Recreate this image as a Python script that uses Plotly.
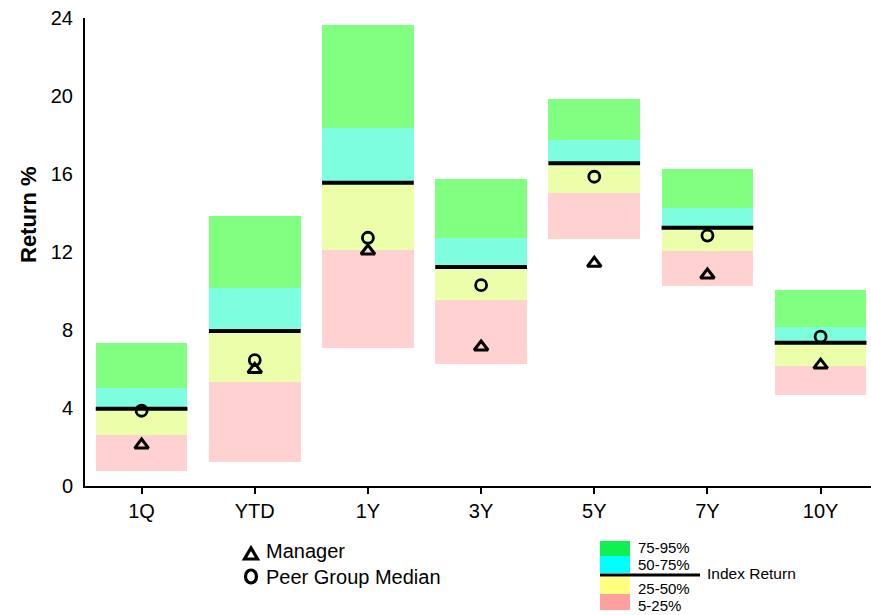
import plotly.graph_objects as go

# Return periods and peer-group percentile bands (Return %)
categories = ["1Q", "YTD", "1Y", "3Y", "5Y", "7Y", "10Y"]
p05 = [0.77, 1.25, 7.08, 6.26, 12.67, 10.27, 4.67]
p25 = [2.62, 5.35, 12.10, 9.54, 15.04, 12.05, 6.15]
p50 = [3.96, 7.95, 15.55, 11.23, 16.55, 13.25, 7.35]
p75 = [5.04, 10.17, 18.37, 12.72, 17.74, 14.26, 8.14]
p95 = [7.33, 13.85, 23.64, 15.74, 19.85, 16.26, 10.05]
index_return = [3.96, 7.95, 15.55, 11.23, 16.55, 13.25, 7.35]
peer_median = [3.86, 6.46, 12.73, 10.30, 15.86, 12.84, 7.66]
manager = [2.10, 5.98, 12.05, 7.13, 11.42, 10.82, 6.20]
y_ticks = [0, 4, 8, 12, 16, 20, 24]

FONT = "Liberation Sans, Arial, sans-serif"
W, H = 871, 615
ML, MR, MT, MB = 85, 0, 18, 129
BAR_W = 0.81

xpos = list(range(len(categories)))

bands = [
    ("5-25%", p05, p25, "#FFD1D1"),
    ("25-50%", p25, p50, "#EBFFAA"),
    ("50-75%", p50, p75, "#7DFFDF"),
    ("75-95%", p75, p95, "#80FF80"),
]

fig = go.Figure()
for name, lo, hi, color in bands:
    fig.add_trace(go.Bar(
        x=xpos, y=[h - l for l, h in zip(lo, hi)], base=lo,
        width=BAR_W, marker=dict(color=color, line=dict(width=0)),
        name=name, showlegend=False, hoverinfo="skip",
    ))

# index return: a horizontal segment across each bar
seg_x, seg_y = [], []
for i, v in zip(xpos, index_return):
    seg_x += [i - BAR_W / 2, i + BAR_W / 2, None]
    seg_y += [v, v, None]
fig.add_trace(go.Scatter(x=seg_x, y=seg_y, mode="lines",
                         line=dict(color="black", width=4),
                         showlegend=False, hoverinfo="skip"))

fig.add_trace(go.Scatter(
    x=xpos, y=peer_median, mode="markers", name="Peer Group Median",
    marker=dict(symbol="circle-open", size=11, color="black",
                line=dict(width=2.8, color="black")),
    showlegend=False))
fig.add_trace(go.Scatter(
    x=xpos, y=manager, mode="markers", name="Manager",
    marker=dict(symbol="triangle-up-open", size=12, color="black",
                line=dict(width=3, color="black")),
    showlegend=False))

plot_w = W - ML - MR
plot_h = H - MT - MB


def px(x):
    return (x - ML) / plot_w


def py(y):
    return (H - MB - y) / plot_h


def label(x, y, text, size, anchor="left", **kw):
    return dict(x=px(x), y=py(y), text=text, showarrow=False,
                xanchor=anchor, yanchor="middle", xref="paper", yref="paper",
                font=dict(size=size, family=FONT, color="black"), **kw)


shapes = []
annotations = []

# marker key: outlined triangle and ring drawn as shapes
tri = "M {0} {1} L {2} {3} L {4} {5} Z".format(
    px(244.5), py(559), px(257.5), py(559), px(251), py(548))
shapes.append(dict(type="path", xref="paper", yref="paper", path=tri,
                   line=dict(color="black", width=3.2)))
shapes.append(dict(type="circle", xref="paper", yref="paper",
                   x0=px(245.5), x1=px(256.5), y0=py(583), y1=py(570),
                   line=dict(color="black", width=3.2)))
annotations += [
    label(264, 551, "Manager", 20),
    label(264, 577, "Peer Group Median", 20),
]

# percentile colour key
key = [
    ("75-95%", "#10F050", 541, 556, 547),
    ("50-75%", "#00FFFF", 556, 573, 564),
    ("25-50%", "#FFFF80", 577, 594, 588),
    ("5-25%", "#FFA0A0", 594, 610, 605),
]
for text, color, y0, y1, ty in key:
    shapes.append(dict(type="rect", xref="paper", yref="paper",
                       x0=px(600), x1=px(630), y0=py(y1), y1=py(y0),
                       fillcolor=color, line=dict(width=0)))
    annotations.append(label(636, ty, text, 15))
shapes.append(dict(type="line", xref="paper", yref="paper",
                   x0=px(600), x1=px(700), y0=py(575), y1=py(575),
                   line=dict(color="black", width=3)))
annotations.append(label(705, 573, "Index Return", 15.5))

# y-axis title
annotations.append(label(29, 215, "<b>Return %</b>", 22, anchor="center",
                         textangle=-90))

fig.update_layout(
    width=W, height=H,
    margin=dict(l=ML, r=MR, t=MT, b=MB),
    paper_bgcolor="white", plot_bgcolor="white",
    barmode="overlay", bargap=0,
    font=dict(family=FONT, color="black"),
    shapes=shapes, annotations=annotations,
    xaxis=dict(
        range=[-0.5, -0.5 + plot_w / 113.17],
        tickmode="array", tickvals=xpos, ticktext=categories,
        showline=True, linecolor="black", linewidth=2,
        ticks="outside", ticklen=6, tickwidth=2, tickcolor="black",
        showgrid=False, zeroline=False, fixedrange=True,
        tickfont=dict(size=20, family=FONT, color="black"),
    ),
    yaxis=dict(
        range=[0, 24], tickmode="array", tickvals=y_ticks,
        showline=True, linecolor="black", linewidth=2,
        ticks="outside", ticklen=6, tickcolor="rgba(0,0,0,0)",
        showgrid=False, zeroline=False, fixedrange=True,
        tickfont=dict(size=20, family=FONT, color="black"),
    ),
)

fig.write_html("out.html")
